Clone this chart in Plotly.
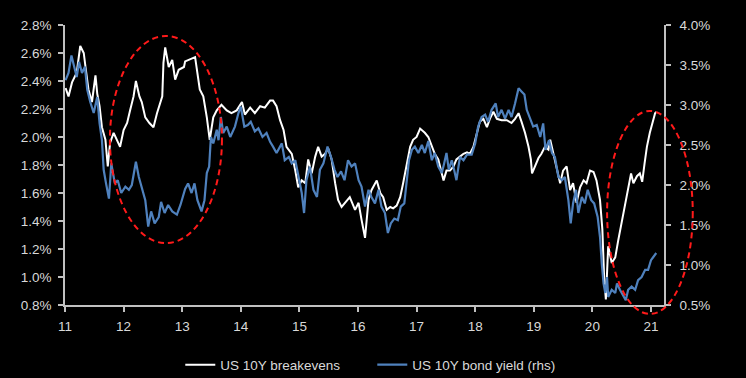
import plotly.graph_objects as go

# US 10Y breakevens (lhs, %)
be_t = [2011.01, 2011.06, 2011.12, 2011.20, 2011.26, 2011.32, 2011.35, 2011.40, 2011.46, 2011.52,
        2011.55, 2011.59, 2011.63, 2011.69, 2011.73, 2011.77, 2011.83, 2011.89, 2011.94, 2012.00,
        2012.06, 2012.11, 2012.17, 2012.21, 2012.27, 2012.31, 2012.37, 2012.44, 2012.51, 2012.57,
        2012.66, 2012.68, 2012.71, 2012.77, 2012.83, 2012.88, 2012.94, 2013.03, 2013.05, 2013.22,
        2013.30, 2013.36, 2013.42, 2013.47, 2013.53, 2013.59, 2013.67, 2013.76, 2013.84, 2013.93,
        2014.02, 2014.07, 2014.16, 2014.24, 2014.33, 2014.41, 2014.50, 2014.55, 2014.61, 2014.67,
        2014.73, 2014.78, 2014.87, 2014.93, 2014.98, 2015.04, 2015.10, 2015.15, 2015.21, 2015.27,
        2015.32, 2015.38, 2015.44, 2015.49, 2015.55, 2015.61, 2015.66, 2015.72, 2015.78, 2015.86,
        2015.95, 2016.01, 2016.06, 2016.12, 2016.18, 2016.23, 2016.32, 2016.38, 2016.43, 2016.49,
        2016.55, 2016.60, 2016.66, 2016.72, 2016.77, 2016.83, 2016.89, 2016.94, 2017.00, 2017.06,
        2017.14, 2017.20, 2017.26, 2017.31, 2017.37, 2017.43, 2017.46, 2017.51, 2017.57, 2017.63,
        2017.68, 2017.74, 2017.80, 2017.86, 2017.91, 2017.97, 2018.03, 2018.08, 2018.14, 2018.20,
        2018.25, 2018.31, 2018.37, 2018.45, 2018.54, 2018.62, 2018.68, 2018.74, 2018.79, 2018.85,
        2018.91, 2018.95, 2018.97, 2019.02, 2019.08, 2019.13, 2019.19, 2019.25, 2019.28, 2019.33,
        2019.39, 2019.45, 2019.50, 2019.56, 2019.62, 2019.67, 2019.73, 2019.79, 2019.85, 2019.90,
        2019.96, 2020.02, 2020.07, 2020.13, 2020.17, 2020.20, 2020.23, 2020.27, 2020.33, 2020.39,
        2020.44, 2020.50, 2020.56, 2020.61, 2020.66, 2020.70, 2020.76, 2020.81, 2020.85, 2020.89,
        2020.93, 2020.98, 2021.02, 2021.07, 2021.09]
be_v = [2.35, 2.29, 2.39, 2.46, 2.65, 2.60, 2.50, 2.34, 2.25, 2.44,
        2.31, 2.22, 2.07, 1.98, 1.79, 1.96, 2.03, 1.98, 1.93, 2.05,
        2.10, 2.19, 2.29, 2.40, 2.29, 2.25, 2.14, 2.10, 2.07, 2.17,
        2.29, 2.53, 2.64, 2.50, 2.55, 2.41, 2.48, 2.50, 2.54, 2.57,
        2.34, 2.29, 2.14, 1.98, 2.14, 2.19, 2.23, 2.19, 2.17, 2.19,
        2.25, 2.16, 2.21, 2.17, 2.22, 2.21, 2.26, 2.26, 2.22, 2.12,
        2.05, 1.93, 1.88, 1.76, 1.64, 1.69, 1.67, 1.84, 1.74, 1.86,
        1.93, 1.86, 1.88, 1.92, 1.84, 1.67, 1.55, 1.50, 1.53, 1.57,
        1.48, 1.53, 1.41, 1.28, 1.55, 1.62, 1.69, 1.60, 1.57, 1.48,
        1.50, 1.49, 1.51, 1.57, 1.67, 1.79, 1.93, 1.98, 2.00, 2.06,
        2.03, 2.00, 1.93, 1.88, 1.84, 1.73, 1.69, 1.76, 1.76, 1.79,
        1.84, 1.86, 1.88, 1.89, 1.88, 1.93, 2.03, 2.11, 2.13, 2.07,
        2.13, 2.18, 2.13, 2.12, 2.12, 2.10, 2.13, 2.17, 2.11, 2.03,
        1.93, 1.84, 1.74, 1.79, 1.85, 1.88, 1.93, 1.91, 1.98, 1.89,
        1.79, 1.67, 1.76, 1.79, 1.62, 1.67, 1.53, 1.64, 1.69, 1.67,
        1.76, 1.75, 1.69, 1.55, 1.34, 1.00, 0.84, 1.22, 1.10, 1.14,
        1.26, 1.39, 1.50, 1.62, 1.74, 1.67, 1.72, 1.74, 1.68, 1.81,
        1.93, 2.03, 2.10, 2.17, 2.18]

# US 10Y bond yield (rhs, %)
by_t = [2011.01, 2011.06, 2011.11, 2011.15, 2011.20, 2011.24, 2011.29, 2011.34, 2011.38, 2011.43,
        2011.49, 2011.55, 2011.59, 2011.63, 2011.66, 2011.70, 2011.75, 2011.79, 2011.85, 2011.90,
        2011.96, 2012.03, 2012.09, 2012.14, 2012.21, 2012.26, 2012.31, 2012.37, 2012.42, 2012.47,
        2012.53, 2012.60, 2012.64, 2012.70, 2012.76, 2012.83, 2012.91, 2012.97, 2013.05, 2013.10,
        2013.16, 2013.21, 2013.26, 2013.33, 2013.38, 2013.42, 2013.46, 2013.49, 2013.53, 2013.59,
        2013.62, 2013.66, 2013.70, 2013.76, 2013.82, 2013.90, 2013.96, 2014.00, 2014.06, 2014.12,
        2014.17, 2014.24, 2014.30, 2014.37, 2014.44, 2014.50, 2014.55, 2014.61, 2014.70, 2014.75,
        2014.82, 2014.87, 2014.93, 2014.98, 2015.04, 2015.08, 2015.12, 2015.18, 2015.24, 2015.30,
        2015.35, 2015.41, 2015.48, 2015.54, 2015.60, 2015.65, 2015.71, 2015.77, 2015.83, 2015.89,
        2015.95, 2016.01, 2016.06, 2016.12, 2016.18, 2016.23, 2016.29, 2016.35, 2016.40, 2016.46,
        2016.51, 2016.56, 2016.62, 2016.68, 2016.73, 2016.79, 2016.83, 2016.87, 2016.92, 2016.97,
        2017.03, 2017.09, 2017.14, 2017.20, 2017.26, 2017.31, 2017.37, 2017.43, 2017.47, 2017.51,
        2017.55, 2017.60, 2017.64, 2017.68, 2017.74, 2017.80, 2017.86, 2017.94, 2018.00, 2018.05,
        2018.11, 2018.17, 2018.22, 2018.28, 2018.35, 2018.39, 2018.45, 2018.51, 2018.57, 2018.62,
        2018.68, 2018.74, 2018.79, 2018.84, 2018.88, 2018.94, 2018.99, 2019.05, 2019.11, 2019.16,
        2019.20, 2019.26, 2019.31, 2019.36, 2019.42, 2019.48, 2019.53, 2019.59, 2019.63, 2019.67,
        2019.72, 2019.76, 2019.82, 2019.87, 2019.92, 2019.98, 2020.03, 2020.09, 2020.13, 2020.16,
        2020.19, 2020.22, 2020.25, 2020.27, 2020.33, 2020.39, 2020.42, 2020.47, 2020.53, 2020.57,
        2020.61, 2020.67, 2020.73, 2020.78, 2020.84, 2020.90, 2020.95, 2021.00, 2021.04, 2021.09]
by_v = [3.31, 3.40, 3.62, 3.48, 3.35, 3.54, 3.40, 3.48, 3.19, 3.04,
        2.90, 3.10, 2.77, 2.56, 2.19, 2.02, 1.83, 2.27, 2.02, 2.06,
        1.90, 1.98, 1.94, 2.00, 2.29, 2.10, 1.98, 1.81, 1.48, 1.67,
        1.52, 1.60, 1.79, 1.65, 1.75, 1.67, 1.63, 1.75, 1.95, 2.02,
        1.90, 2.02, 1.81, 1.67, 1.81, 2.15, 2.23, 2.60, 2.52, 2.69,
        2.56, 2.85, 2.65, 2.73, 2.60, 2.73, 2.90, 2.98, 2.73, 2.75,
        2.79, 2.67, 2.71, 2.60, 2.65, 2.54, 2.48, 2.40, 2.52, 2.31,
        2.35, 2.27, 2.31, 2.10, 1.90, 1.65, 2.06, 2.23, 1.94, 1.85,
        2.19, 2.27, 2.48, 2.35, 2.19, 2.10, 2.17, 2.06, 2.31, 2.23,
        2.27, 2.06, 1.98, 1.73, 1.94, 1.85, 1.77, 1.94, 1.73, 1.65,
        1.40, 1.52, 1.58, 1.56, 1.73, 1.77, 2.02, 2.31, 2.44, 2.48,
        2.40, 2.50, 2.40, 2.55, 2.31, 2.40, 2.23, 2.15, 2.27, 2.40,
        2.19, 2.31, 2.19, 2.06, 2.35, 2.31, 2.38, 2.38, 2.52, 2.73,
        2.85, 2.88, 2.79, 2.94, 3.02, 2.85, 2.94, 2.83, 2.94, 2.85,
        3.02, 3.21, 3.17, 3.13, 2.94, 2.81, 2.73, 2.75, 2.60, 2.77,
        2.44, 2.56, 2.40, 2.35, 2.10, 2.06, 2.10, 1.81, 1.52, 1.77,
        1.94, 1.65, 1.85, 1.77, 1.94, 1.81, 1.77, 1.60, 1.35, 1.02,
        0.77, 0.65, 0.85, 0.60, 0.69, 0.65, 0.77, 0.69, 0.60, 0.56,
        0.69, 0.73, 0.69, 0.81, 0.85, 0.94, 0.94, 1.06, 1.10, 1.15]

x_ticks = [2011, 2012, 2013, 2014, 2015, 2016, 2017, 2018, 2019, 2020, 2021]
x_labels = ["11", "12", "13", "14", "15", "16", "17", "18", "19", "20", "21"]
yl_ticks = [0.8, 1.0, 1.2, 1.4, 1.6, 1.8, 2.0, 2.2, 2.4, 2.6, 2.8]
yr_ticks = [0.5, 1.0, 1.5, 2.0, 2.5, 3.0, 3.5, 4.0]

TXT = "#d9d9d9"
AX = "#c0c0c0"
FONT = "Liberation Sans, Arial, sans-serif"
FS = 13.5

fig = go.Figure()
fig.add_trace(go.Scatter(x=be_t, y=be_v, mode="lines", name="US 10Y breakevens",
                         line=dict(color="#ffffff", width=2), yaxis="y"))
fig.add_trace(go.Scatter(x=by_t, y=by_v, mode="lines", name="US 10Y bond yield (rhs)",
                         line=dict(color="#4f81bd", width=2.2), yaxis="y2"))

axis_common = dict(showgrid=False, zeroline=False, showline=True, linecolor=AX, linewidth=1.5,
                   ticks="outside", ticklen=5, tickcolor=AX, tickwidth=1.5, automargin=False,
                   tickfont=dict(color=TXT, size=FS, family=FONT))

fig.update_layout(
    width=746, height=378,
    paper_bgcolor="#000000", plot_bgcolor="#000000",
    margin=dict(l=65, r=82, t=25, b=73, autoexpand=False),
    font=dict(family=FONT, color=TXT, size=FS),
    xaxis=dict(range=[2011, 2021.222], tickvals=x_ticks, ticktext=x_labels,
               ticklabelstandoff=3, **axis_common),
    yaxis=dict(range=[0.8, 2.8], tickvals=yl_ticks,
               ticktext=[f"{v:.1f}%" for v in yl_ticks], ticklabelstandoff=4, **axis_common),
    yaxis2=dict(range=[0.5, 4.0], tickvals=yr_ticks, overlaying="y", side="right",
                ticktext=[f"{v:.1f}%" for v in yr_ticks], ticklabelstandoff=6, **axis_common),
    showlegend=True,
    legend=dict(orientation="h", x=0.513, xanchor="center", y=-0.214, yanchor="middle",
                entrywidth=147, font=dict(color=TXT, size=FS, family=FONT),
                bgcolor="rgba(0,0,0,0)"),
    shapes=[
        dict(type="circle", xref="paper", yref="paper", x0=0.075, x1=0.262, y0=0.221, y1=0.961,
             line=dict(color="#ff1a1a", width=2, dash="6px,4px"), layer="above"),
        dict(type="circle", xref="paper", yref="paper", x0=0.905, x1=1.048, y0=-0.032, y1=0.693,
             line=dict(color="#ff1a1a", width=2, dash="6px,4px"), layer="above"),
    ],
)

fig.write_html(
    "out.html",
    config={"displayModeBar": False},
    post_script="document.body.style.margin='0';document.body.style.background='#000';"
                "document.documentElement.style.background='#000';document.body.style.overflow='hidden';",
)
